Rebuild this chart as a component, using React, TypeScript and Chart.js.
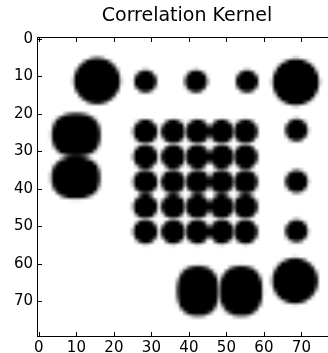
import React, { useEffect, useRef } from "react";
import { Chart, registerables } from "chart.js";

Chart.register(...registerables);

// Kernel size (80 x 80 cells) and tick labels
const gridSize = 80;
const xTicks = [0, 10, 20, 30, 40, 50, 60, 70];
const yTicks = [0, 10, 20, 30, 40, 50, 60, 70];

// Blobs in the kernel (data coordinates: column, row)
const blobX = [
  15.5, 28.4, 41.9, 55.5, 68.5,
  9.9, 9.8,
  28.4, 35.8, 42.3, 48.7, 55.1,
  28.4, 35.8, 42.3, 48.7, 55.1,
  28.4, 35.8, 42.3, 48.7, 55.1,
  28.4, 35.8, 42.3, 48.7, 55.1,
  28.4, 35.8, 42.3, 48.7, 55.1,
  68.7, 68.7, 68.7,
  42.4, 53.9, 68.3,
];
const blobY = [
  11.2, 11.3, 11.3, 11.3, 11.5,
  25.6, 37.0,
  24.7, 24.7, 24.7, 24.7, 24.7,
  31.4, 31.4, 31.4, 31.4, 31.4,
  38.1, 38.1, 38.1, 38.1, 38.1,
  44.7, 44.7, 44.7, 44.7, 44.7,
  51.4, 51.4, 51.4, 51.4, 51.4,
  24.3, 38.0, 51.2,
  67.2, 67.2, 64.5,
];
const blobRX = [
  6.2, 3.0, 3.0, 3.0, 6.2,
  6.5, 6.5,
  3.25, 3.25, 3.25, 3.25, 3.25,
  3.25, 3.25, 3.25, 3.25, 3.25,
  3.25, 3.25, 3.25, 3.25, 3.25,
  3.25, 3.25, 3.25, 3.25, 3.25,
  3.25, 3.25, 3.25, 3.25, 3.25,
  3.0, 3.0, 3.0,
  5.6, 5.7, 6.1,
];
const blobRY = [
  6.2, 3.0, 3.0, 3.0, 6.2,
  5.8, 5.6,
  3.25, 3.25, 3.25, 3.25, 3.25,
  3.25, 3.25, 3.25, 3.25, 3.25,
  3.25, 3.25, 3.25, 3.25, 3.25,
  3.25, 3.25, 3.25, 3.25, 3.25,
  3.25, 3.25, 3.25, 3.25, 3.25,
  3.0, 3.0, 3.0,
  6.7, 6.7, 6.1,
];
const blobExp = [
  2, 2, 2, 2, 2,
  2.4, 2.4,
  2, 2, 2, 2, 2,
  2, 2, 2, 2, 2,
  2, 2, 2, 2, 2,
  2, 2, 2, 2, 2,
  2, 2, 2, 2, 2,
  2, 2, 2,
  2.4, 2.4, 2,
];

function buildCells(): number[] {
  const cells: number[] = new Array(gridSize * gridSize).fill(0);
  for (let j = 0; j < gridSize; j++) {
    for (let i = 0; i < gridSize; i++) {
      let v = 0;
      for (let k = 0; k < blobX.length; k++) {
        const dx = Math.abs(i - blobX[k]) / blobRX[k];
        const dy = Math.abs(j - blobY[k]) / blobRY[k];
        const p = blobExp[k];
        const rho = Math.pow(Math.pow(dx, p) + Math.pow(dy, p), 1 / p);
        const d = (rho - 1) * (blobRX[k] + blobRY[k]) / 2;
        const c = Math.max(0, Math.min(1, 0.5 - d));
        if (c > v) v = c;
      }
      cells[j * gridSize + i] = v;
    }
  }
  return cells;
}

const FONT = "DejaVu Sans";

export default function App() {
  const ref = useRef<HTMLCanvasElement | null>(null);

  useEffect(() => {
    const canvas = ref.current;
    if (!canvas) return;
    const cells = buildCells();
    const off = document.createElement("canvas");
    off.width = gridSize;
    off.height = gridSize;
    const octx = off.getContext("2d")!;
    const img = octx.createImageData(gridSize, gridSize);
    for (let n = 0; n < cells.length; n++) {
      const g = Math.round(255 * (1 - cells[n]));
      img.data[n * 4] = g;
      img.data[n * 4 + 1] = g;
      img.data[n * 4 + 2] = g;
      img.data[n * 4 + 3] = 255;
    }
    octx.putImageData(img, 0, 0);

    const heatPlugin = {
      id: "heat",
      beforeDatasetsDraw(chart: any) {
        const { ctx, chartArea, scales } = chart;
        const x0 = scales.x.getPixelForValue(-0.5);
        const x1 = scales.x.getPixelForValue(gridSize - 0.5);
        const y0 = scales.y.getPixelForValue(-0.5);
        const y1 = scales.y.getPixelForValue(gridSize - 0.5);
        ctx.save();
        ctx.beginPath();
        ctx.rect(chartArea.left, chartArea.top, chartArea.right - chartArea.left, chartArea.bottom - chartArea.top);
        ctx.clip();
        ctx.imageSmoothingEnabled = true;
        ctx.drawImage(off, x0, y0, x1 - x0, y1 - y0);
        ctx.restore();
      },
      afterDraw(chart: any) {
        const { ctx, chartArea, scales } = chart;
        const { left, right, top, bottom } = chartArea;
        ctx.save();
        ctx.strokeStyle = "#000";
        ctx.lineWidth = 1;
        const tl = 5;
        ctx.beginPath();
        for (const v of xTicks) {
          const x = Math.round(scales.x.getPixelForValue(v)) + 0.5;
          ctx.moveTo(x, bottom);
          ctx.lineTo(x, bottom - tl);
          ctx.moveTo(x, top);
          ctx.lineTo(x, top + tl);
        }
        for (const v of yTicks) {
          const y = Math.round(scales.y.getPixelForValue(v)) + 0.5;
          ctx.moveTo(left, y);
          ctx.lineTo(left + tl, y);
          ctx.moveTo(right, y);
          ctx.lineTo(right - tl, y);
        }
        ctx.stroke();
        ctx.strokeRect(left + 0.5, top + 0.5, right - left - 1, bottom - top - 1);
        ctx.restore();
      },
    };

    const chart = new Chart(canvas, {
      type: "scatter",
      data: { datasets: [] },
      options: {
        animation: false,
        responsive: false,
        layout: { padding: { left: 0, right: 43, top: 0, bottom: 0 } },
        plugins: {
          legend: { display: false },
          tooltip: { enabled: false },
          title: {
            display: true,
            text: "Correlation Kernel",
            fullSize: false,
            color: "#000",
            font: { family: FONT, size: 19, weight: "normal" },
            padding: { top: 5, bottom: 9.2 },
          },
        },
        scales: {
          x: {
            type: "linear",
            position: "bottom",
            min: -0.5,
            max: gridSize - 0.5,
            grid: { display: false, drawTicks: false },
            border: { display: false },
            ticks: {
              color: "#000",
              font: { family: FONT, size: 15 },
              padding: 2,
              maxRotation: 0,
              autoSkip: false,
            },
            afterBuildTicks: (s: any) => {
              s.ticks = xTicks.map((v) => ({ value: v }));
            },
            afterFit: (s: any) => {
              s.height = 16;
            },
          },
          y: {
            type: "linear",
            position: "left",
            reverse: true,
            min: -0.5,
            max: gridSize - 0.5,
            grid: { display: false, drawTicks: false },
            border: { display: false },
            ticks: {
              color: "#000",
              font: { family: FONT, size: 15 },
              padding: 4,
              autoSkip: false,
            },
            afterBuildTicks: (s: any) => {
              s.ticks = yTicks.map((v) => ({ value: v }));
            },
            afterFit: (s: any) => {
              s.width = 37;
            },
          },
        },
      } as any,
      plugins: [heatPlugin],
    });
    return () => chart.destroy();
  }, []);

  return (
    <div
      style={{
        position: "fixed",
        left: 0,
        top: 0,
        width: 328,
        height: 353,
        overflow: "hidden",
        background: "#fff",
      }}
    >
      <canvas ref={ref} width={380} height={353} style={{ display: "block" }} />
    </div>
  );
}
